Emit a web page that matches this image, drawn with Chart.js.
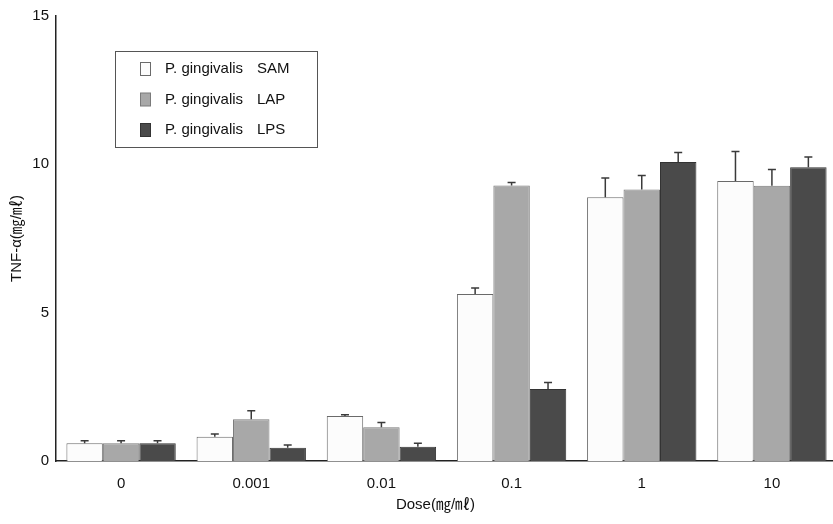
<!DOCTYPE html>
<html>
<head>
<meta charset="utf-8">
<script src="https://cdn.jsdelivr.net/npm/chart.js@4/dist/chart.umd.min.js"></script>
<style>
  html, body { margin: 0; padding: 0; background: #fff; overflow: hidden; }
  #wrap { width: 837px; height: 524px; position: relative; }
</style>
</head>
<body>
<div id="wrap"><canvas id="c" width="837" height="524"></canvas></div>
<script>
// ---- data ----
const categories = ["0", "0.001", "0.01", "0.1", "1", "10"];
const seriesLabels = ["P. gingivalis SAM", "P. gingivalis LAP", "P. gingivalis LPS"];
const samValues = [0.60, 0.82, 1.52, 5.63, 8.89, 9.44];
const lapValues = [0.60, 1.41, 1.14, 9.29, 9.15, 9.28];
const lpsValues = [0.60, 0.45, 0.48, 2.43, 10.08, 9.90];
const samErrors = [0.08, 0.09, 0.04, 0.20, 0.65, 0.99];
const lapErrors = [0.08, 0.28, 0.16, 0.10, 0.47, 0.55];
const lpsErrors = [0.08, 0.09, 0.12, 0.22, 0.32, 0.35];
const yTicks = [0, 5, 10, 15];
const yTitle = "TNF-\u03b1(\u338e/\u3396)";
const xTitle = "Dose(\u338e/\u3396)";

const FONT = "'Liberation Sans', Arial, 'Noto Sans CJK KR', sans-serif";

const errorBarPlugin = {
  id: 'errorBars',
  afterDatasetsDraw(chart) {
    const ctx = chart.ctx;
    const yScale = chart.scales.y;
    chart.data.datasets.forEach((ds, i) => {
      const meta = chart.getDatasetMeta(i);
      meta.data.forEach((bar, j) => {
        const top = yScale.getPixelForValue(ds.data[j] + ds.errors[j]);
        ctx.save();
        ctx.strokeStyle = '#3a3a3a';
        ctx.lineWidth = 1.5;
        ctx.beginPath();
        ctx.moveTo(bar.x, bar.y);
        ctx.lineTo(bar.x, top);
        ctx.moveTo(bar.x - 4, top);
        ctx.lineTo(bar.x + 4, top);
        ctx.stroke();
        ctx.restore();
      });
    });
  }
};

const legendBoxPlugin = {
  id: 'legendBox',
  afterDraw(chart) {
    const ctx = chart.ctx;
    const a = chart.chartArea;
    const left = a.left + 59, top = a.top + 35, w = 202, h = 96;
    ctx.save();
    ctx.strokeStyle = '#555';
    ctx.lineWidth = 1;
    ctx.strokeRect(left + 0.5, top + 0.5, w, h);
    ctx.font = "15px " + FONT;
    ctx.textBaseline = 'middle';
    chart.data.datasets.forEach((ds, i) => {
      const cy = top + 18 + i * 30.5;
      ctx.fillStyle = ds.backgroundColor;
      ctx.fillRect(left + 25.5, cy - 6.5, 10, 13);
      ctx.strokeStyle = ds.borderColor;
      ctx.strokeRect(left + 25.5, cy - 6.5, 10, 13);
      const idx = ds.label.lastIndexOf(' ');
      ctx.fillStyle = '#111';
      ctx.fillText(ds.label.slice(0, idx), left + 50, cy);
      ctx.fillText(ds.label.slice(idx + 1), left + 142, cy);
    });
    ctx.restore();
  }
};

// x-axis title, drawn slightly left of the plot centre as in the original
const xTitlePlugin = {
  id: 'xTitle',
  afterDraw(chart) {
    const ctx = chart.ctx;
    const a = chart.chartArea;
    ctx.save();
    ctx.font = "15px " + FONT;
    ctx.fillStyle = '#111';
    ctx.textAlign = 'center';
    ctx.textBaseline = 'middle';
    ctx.fillText(xTitle, (a.left + a.right) / 2 - 11, a.bottom + 44);
    ctx.restore();
  }
};

new Chart(document.getElementById('c'), {
  type: 'bar',
  data: {
    labels: categories,
    datasets: [
      { label: seriesLabels[0], data: samValues, errors: samErrors, backgroundColor: '#fcfcfc', borderColor: '#6a6a6a', borderWidth: 1 },
      { label: seriesLabels[1], data: lapValues, errors: lapErrors, backgroundColor: '#a8a8a8', borderColor: '#7a7a7a', borderWidth: 1 },
      { label: seriesLabels[2], data: lpsValues, errors: lpsErrors, backgroundColor: '#4a4a4a', borderColor: '#333333', borderWidth: 1 }
    ]
  },
  options: {
    responsive: false,
    animation: false,
    devicePixelRatio: 1,
    layout: { padding: { top: 15, right: 0, left: 0, bottom: 0 } },
    categoryPercentage: 0.84,
    barPercentage: 1.0,
    plugins: {
      legend: { display: false },
      tooltip: { enabled: false },
      title: { display: false }
    },
    scales: {
      x: {
        grid: { display: false, drawTicks: false },
        border: { display: true, color: '#222', width: 1.5 },
        ticks: { color: '#111', font: { family: FONT, size: 15 }, padding: 14 },
        title: { display: false },
        afterFit(s) { s.height = 63; }
      },
      y: {
        min: 0, max: 15,
        afterBuildTicks(s) { s.ticks = yTicks.map(v => ({ value: v })); },
        grid: { display: false, drawTicks: false },
        border: { display: true, color: '#222', width: 1.5 },
        ticks: { color: '#111', font: { family: FONT, size: 15 }, padding: 7 },
        title: { display: true, text: yTitle, color: '#111', font: { family: FONT, size: 15 }, padding: { top: 8, bottom: 0 } },
        afterFit(s) { s.width = 56; }
      }
    }
  },
  plugins: [errorBarPlugin, legendBoxPlugin, xTitlePlugin]
});
</script>
</body>
</html>
